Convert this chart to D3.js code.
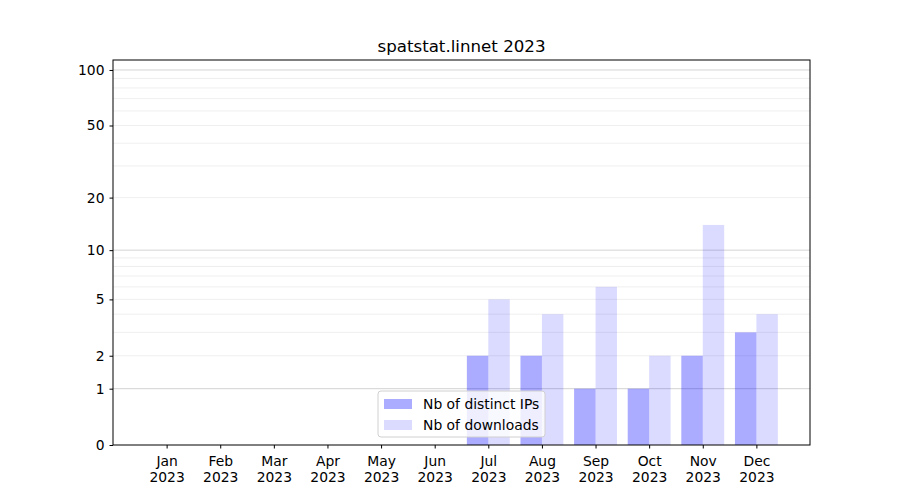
<!DOCTYPE html>
<html><head><meta charset="utf-8">
<script src="https://cdn.jsdelivr.net/npm/d3@7"></script>
<style>body{margin:0;background:#fff;} text{font-family:"DejaVu Sans",sans-serif;}</style>
</head><body>
<svg id="c" width="900" height="500"></svg>
<script>
const months = ["Jan","Feb","Mar","Apr","May","Jun","Jul","Aug","Sep","Oct","Nov","Dec"];
const year = "2023";
const ips = [0,0,0,0,0,0,2,2,1,1,2,3];
const downloads = [0,0,0,0,0,0,5,4,6,2,14,4];
const yTicks = [0,1,2,5,10,20,50,100];
const majorGrid = [1,10,100];
const minorGrid = [2,3,4,5,6,7,8,9,20,30,40,50,60,70,80,90];
const title = "spatstat.linnet 2023";
const seriesNames = ["Nb of distinct IPs","Nb of downloads"];

const FS="13.89px";
const L=113,R=810,T=60,B=445;
const svg=d3.select("#c");
const x=d3.scaleLinear().domain([-1,12]).range([L,R]);
const y=d3.scaleSymlog().constant(1).domain([0,113.2]).range([B,T]);
const bw=0.4;

const g=svg.append("g");
g.selectAll("line.minor").data(minorGrid).enter().append("line")
 .attr("x1",L).attr("x2",R).attr("y1",d=>y(d)).attr("y2",d=>y(d))
 .attr("stroke","#ebebeb").attr("stroke-width",0.8);
g.selectAll("line.major").data(majorGrid).enter().append("line")
 .attr("x1",L).attr("x2",R).attr("y1",d=>y(d)).attr("y2",d=>y(d))
 .attr("stroke","#c8c8c8").attr("stroke-width",0.8);

g.selectAll("rect.ip").data(ips).enter().append("rect")
 .attr("x",(d,i)=>x(i-bw)).attr("width",x(bw)-x(0))
 .attr("y",d=>y(d)).attr("height",d=>B-y(d))
 .attr("fill","blue").attr("fill-opacity",0.33);
g.selectAll("rect.dl").data(downloads).enter().append("rect")
 .attr("x",(d,i)=>x(i)).attr("width",x(bw)-x(0))
 .attr("y",d=>y(d)).attr("height",d=>B-y(d))
 .attr("fill","blue").attr("fill-opacity",0.14);

// frame
svg.append("rect").attr("x",L).attr("y",T).attr("width",R-L).attr("height",B-T)
 .attr("fill","none").attr("stroke","#000").attr("stroke-width",1);

// y axis
const ya=svg.append("g").attr("transform",`translate(${L},0)`)
 .call(d3.axisLeft(y).tickValues(yTicks).tickFormat(d3.format("d")).tickSize(3.5).tickPadding(5));
ya.select(".domain").remove();
ya.selectAll("text").attr("font-size",FS).attr("fill","#000").attr("font-family","DejaVu Sans");

// x axis
const xa=svg.append("g").attr("transform",`translate(0,${B})`)
 .call(d3.axisBottom(x).tickValues(d3.range(12)).tickFormat(()=>"").tickSize(3.5));
xa.select(".domain").remove();
xa.selectAll(".tick").each(function(d){
  const t=d3.select(this).append("text").attr("fill","#000").attr("font-size",FS)
   .attr("text-anchor","middle");
  t.append("tspan").attr("x",0).attr("y",21).text(months[d]);
  t.append("tspan").attr("x",0).attr("y",37).text(year);
});

svg.append("text").attr("x",(L+R)/2).attr("y",52).attr("text-anchor","middle")
 .attr("font-size","16.67px").text(title);

// legend
const lg=svg.append("g").attr("transform","translate(378,391)");
lg.append("rect").attr("width",167).attr("height",46).attr("rx",3)
 .attr("fill","#fff").attr("fill-opacity",0.8).attr("stroke","#d0d0d0");
const op=[0.33,0.14];
seriesNames.forEach((s,i)=>{
  lg.append("rect").attr("x",6).attr("y",8+i*21).attr("width",28).attr("height",10)
   .attr("fill","blue").attr("fill-opacity",op[i]);
  lg.append("text").attr("x",45).attr("y",18+i*21).attr("font-size",FS).text(s);
});
</script>
</body></html>
